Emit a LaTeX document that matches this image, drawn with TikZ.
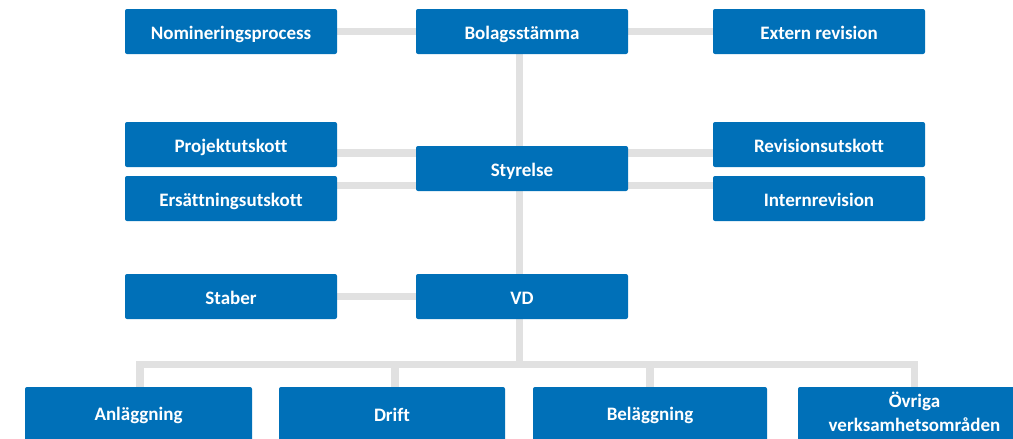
\documentclass[tikz,border=0pt]{standalone}
\usepackage{fontspec}
\setmainfont{Carlito}[Ligatures=NoCommon]
\usetikzlibrary{backgrounds}
\definecolor{boxblue}{RGB}{0,112,184}
\definecolor{linkgray}{RGB}{225,225,225}
\begin{document}
\begin{tikzpicture}[x=1pt,y=-1pt,
  orgbox/.style={fill=boxblue,text=white,rounded corners=2pt,inner sep=0pt,
    minimum width=212pt,minimum height=45pt,align=center,
    font=\fontsize{19}{20.5}\selectfont\bfseries},
  unitbox/.style={orgbox,text height=15.5pt,text depth=0.5pt},
  areabox/.style={orgbox,minimum height=56pt},
  link/.style={draw=linkgray,line width=7.5pt}]
\useasboundingbox (0,0) rectangle (1013,439);
\clip (0,0) rectangle (1013,439);
% top level
\node[unitbox] (nom) at (231,31.5) {Nomineringsprocess};
\node[unitbox] (bol) at (522,31.5) {Bolagsstämma};
\node[unitbox] (ext) at (819,31.5) {Extern revision};
% board and committees
\node[unitbox] (proj) at (231,144.5) {Projektutskott};
\node[unitbox] (ers) at (231,198.5) {Ersättningsutskott};
\node[unitbox] (sty) at (522,168.5) {Styrelse};
\node[unitbox] (rev) at (819,144.5) {Revisionsutskott};
\node[unitbox] (int) at (819,198.5) {Internrevision};
% management
\node[unitbox] (sta) at (231,296.5) {Staber};
\node[unitbox] (vd) at (522,296.5) {VD};
% business areas
\node[areabox,minimum width=227pt] (anl) at (138.5,415) {Anläggning};
\node[areabox,minimum width=226pt] (dri) at (392,415) {Drift};
\node[areabox,minimum width=234pt] (bel) at (650,415) {Beläggning};
\node[areabox,minimum width=233pt,font=\fontsize{19}{23.5}\selectfont\bfseries] (ovr) at (914.5,415)
  {\raisebox{3pt}[\height][\depth]{\parbox{200pt}{\centering Övriga\\verksamhetsområden}}};
\coordinate (bus) at (0,364.5);
\begin{scope}[on background layer]
  \draw[link] (nom.east) -- (bol.west);
  \draw[link] (bol.east) -- (ext.west);
  \draw[link] ([xshift=-2.5pt]bol.south) -- ([xshift=-2.5pt]vd.south |- bus);
  \draw[link] (proj.east |- 0,153) -- (sty.west |- 0,153);
  \draw[link] (ers.east |- 0,185.5) -- (sty.west |- 0,185.5);
  \draw[link] (sty.east |- 0,153) -- (rev.west |- 0,153);
  \draw[link] (sty.east |- 0,185.5) -- (int.west |- 0,185.5);
  \draw[link] (sta.east) -- (vd.west);
  \draw[link,line cap=rect] ([xshift=1.5pt]anl.north |- bus) -- (ovr.north |- bus);
  \draw[link] ([xshift=1.5pt]anl.north |- bus) -- ([xshift=1.5pt]anl.north);
  \draw[link] ([xshift=3pt]dri.north |- bus) -- ([xshift=3pt]dri.north);
  \draw[link] (bel.north |- bus) -- (bel.north);
  \draw[link] (ovr.north |- bus) -- (ovr.north);
\end{scope}
\end{tikzpicture}
\end{document}
